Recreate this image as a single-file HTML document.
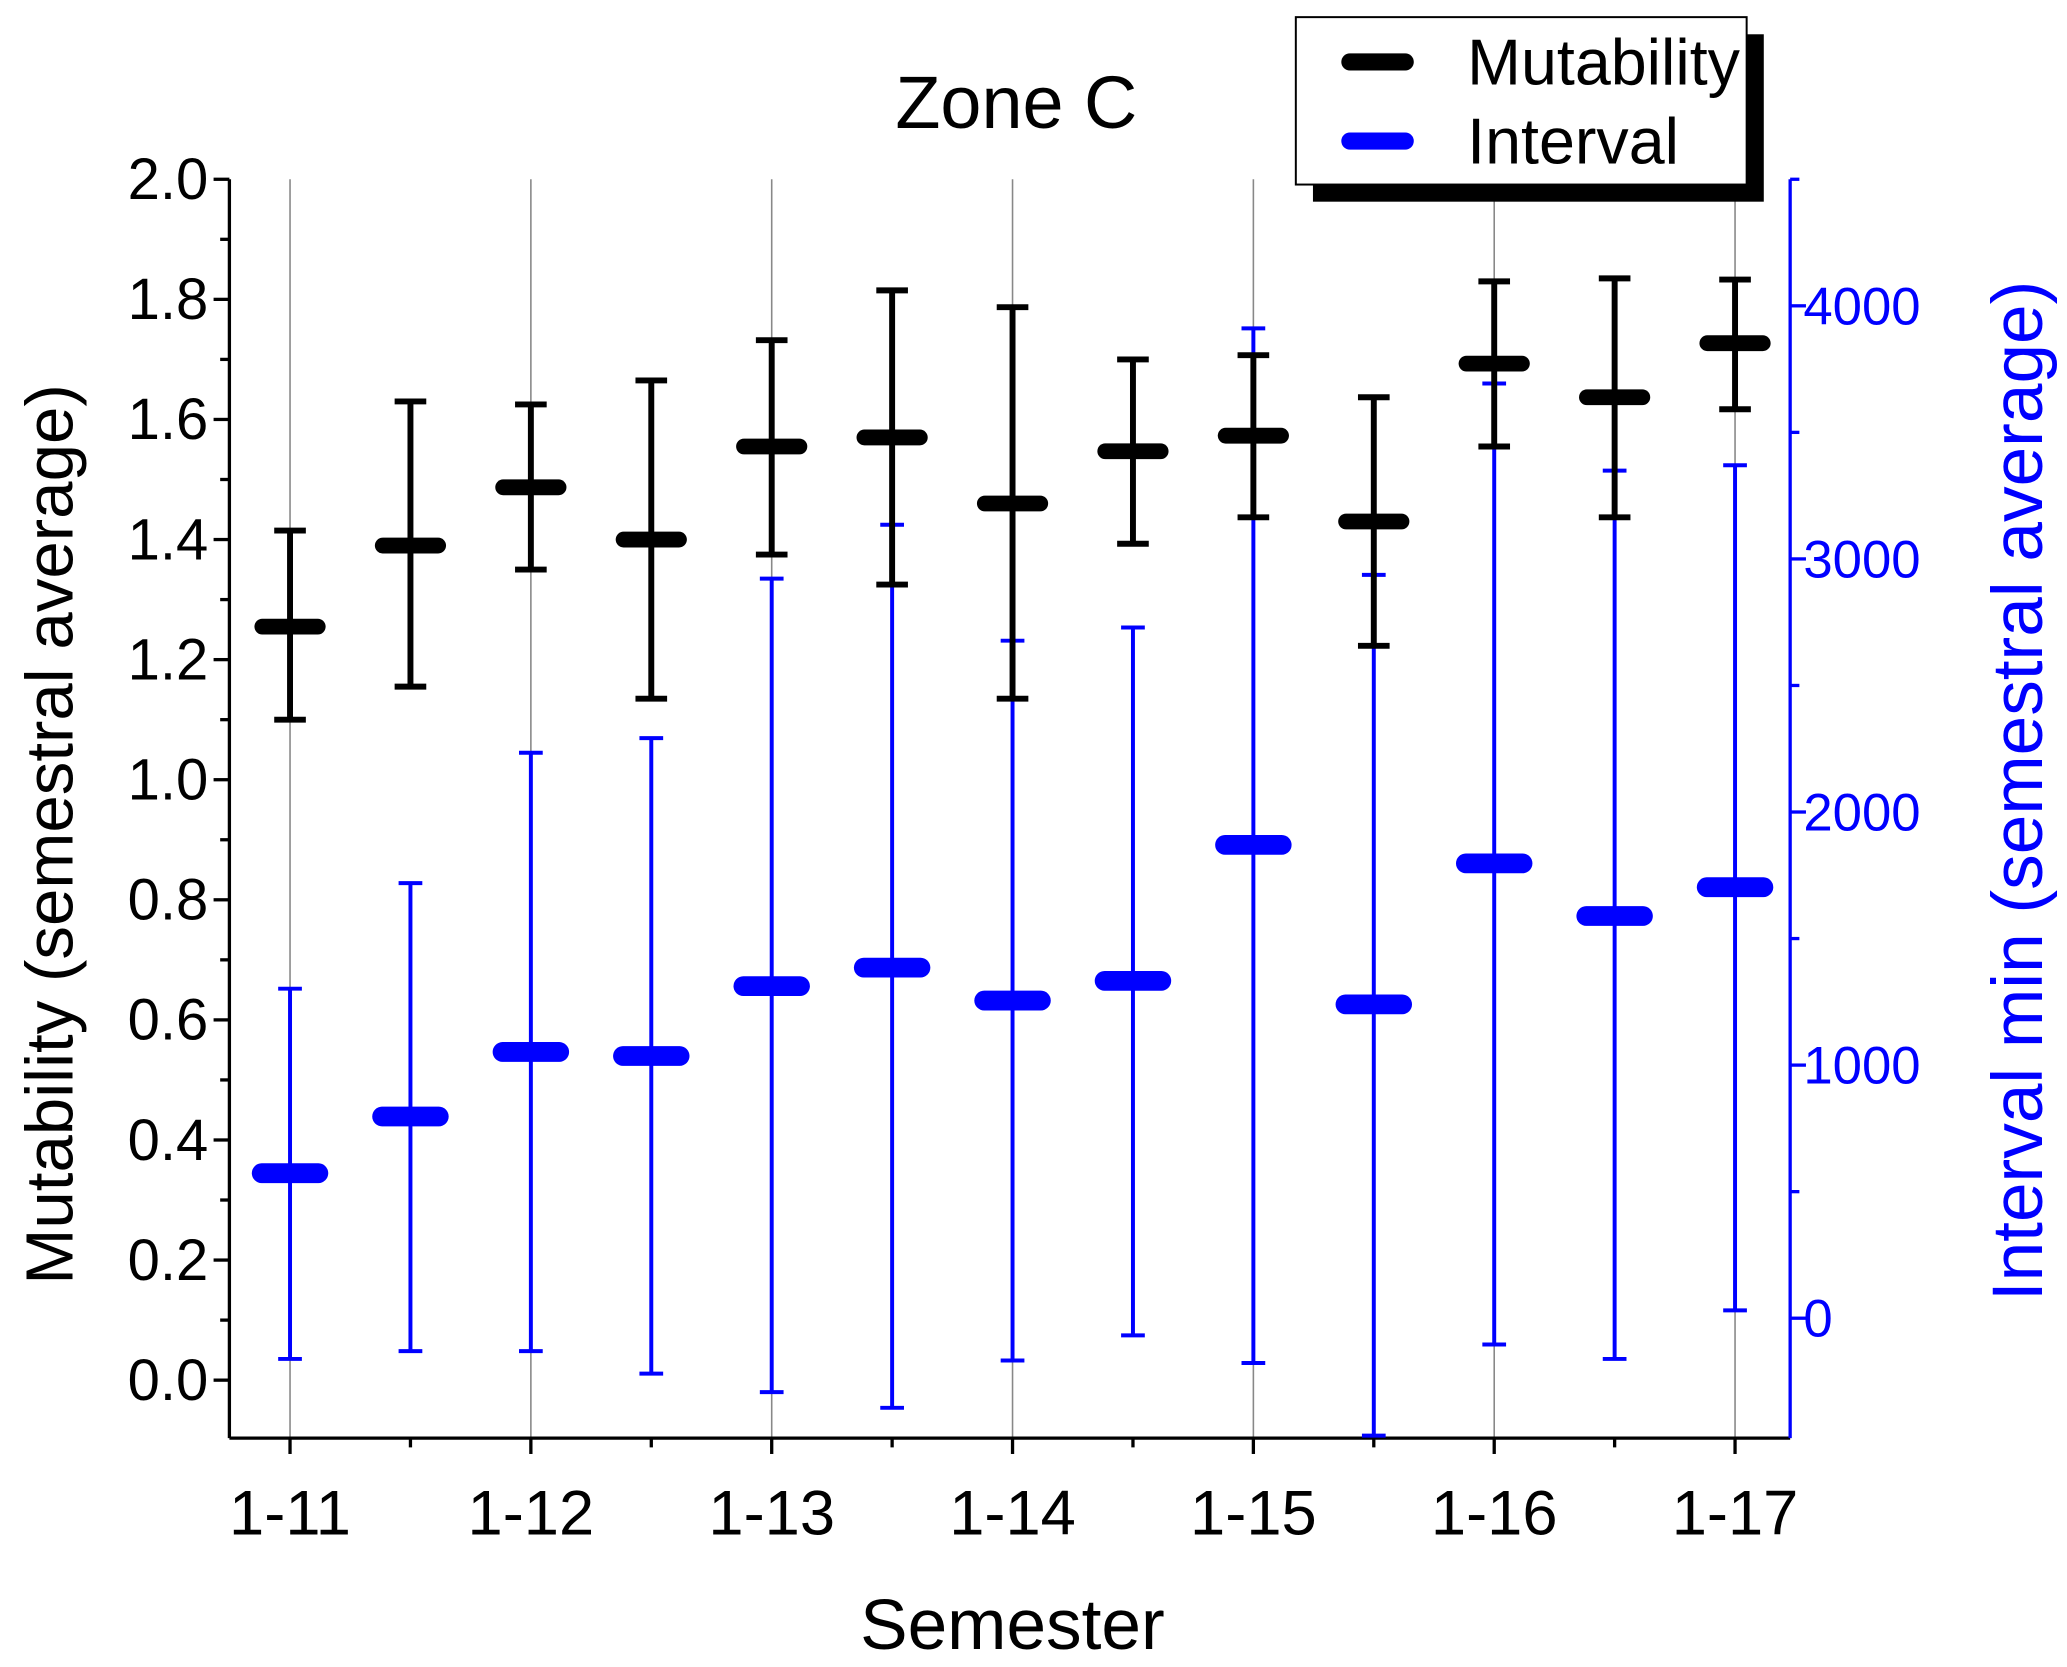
<!DOCTYPE html>
<html><head><meta charset="utf-8"><style>html,body{margin:0;padding:0;background:#fff}svg{display:block}text{font-family:"Liberation Sans",Arial,sans-serif}</style></head>
<body>
<svg id="chart" width="2067" height="1667" viewBox="0 0 1568 1264.6" xmlns="http://www.w3.org/2000/svg">
<g id="grid"></g>
<g id="axes"></g>
<g id="marks"></g>
<text x="771" y="97" font-size="56" text-anchor="middle">Zone C</text>
<text x="768" y="1251" font-size="54" text-anchor="middle">Semester</text>
<text transform="translate(55,633) rotate(-90)" font-size="51" text-anchor="middle">Mutability (semestral average)</text>
<text transform="translate(1549,600) rotate(-90)" font-size="54" text-anchor="middle" fill="#0000ff">Interval min (semestral average)</text>
<g>
<rect x="996" y="26" width="342" height="127" fill="#000"/>
<rect x="983" y="13" width="342" height="127" fill="#fff" stroke="#000" stroke-width="1.5"/>
<line x1="1024" y1="47" x2="1066" y2="47" stroke="#000" stroke-width="13" stroke-linecap="round"/>
<text x="1113" y="64" font-size="49">Mutability</text>
<line x1="1024" y1="107" x2="1066" y2="107" stroke="#0000ff" stroke-width="13" stroke-linecap="round"/>
<text x="1113" y="124" font-size="49">Interval</text>
</g>
</svg>
<script>
const xLabels = ["1-11","1-12","1-13","1-14","1-15","1-16","1-17"];
const mutMean = [1.255,1.39,1.487,1.40,1.555,1.57,1.46,1.547,1.573,1.43,1.693,1.637,1.727];
const mutLow  = [1.10,1.155,1.35,1.135,1.375,1.325,1.135,1.393,1.437,1.223,1.555,1.437,1.617];
const mutHigh = [1.415,1.63,1.625,1.665,1.732,1.815,1.787,1.70,1.707,1.637,1.83,1.835,1.833];
const intMean = [573,797,1052,1036,1312,1385,1255,1333,1870,1240,1797,1589,1703];
const intLow  = [-161,-130,-130,-219,-292,-354,-167,-68,-177,-464,-104,-161,31];
const intHigh = [1302,1719,2234,2292,2922,3135,2677,2729,3911,2937,3693,3349,3370];
const leftTicks = ["0.0","0.2","0.4","0.6","0.8","1.0","1.2","1.4","1.6","1.8","2.0"];
const rightTicks = ["0","1000","2000","3000","4000"];

const NS="http://www.w3.org/2000/svg";
const L=174,R=1358,T=136,B=1091;
const xs=i=>220+i*91.35;
const yL=v=>1047-v*455.5;
const yR=v=>1000-v*0.192;
function mk(tag,attrs,parent){const e=document.createElementNS(NS,tag);for(const k in attrs)e.setAttribute(k,attrs[k]);document.getElementById(parent).appendChild(e);return e;}

xLabels.forEach((s,j)=>{const e=mk('line',{x1:xs(2*j),x2:xs(2*j),y1:T,y2:B,stroke:'#888','stroke-width':1.2},'grid');

});

let a=mk('line',{x1:L,x2:L,y1:T,y2:B,stroke:'#000','stroke-width':2.5},'axes');


a=mk('line',{x1:L,x2:R,y1:B,y2:B,stroke:'#000','stroke-width':2.5},'axes');


a=mk('line',{x1:R,x2:R,y1:T,y2:B,stroke:'#0000ff','stroke-width':2.5},'axes');



leftTicks.forEach((s,i)=>{const v=parseFloat(s);const y=yL(v);
mk('line',{x1:L-12,x2:L,y1:y,y2:y,stroke:'#000','stroke-width':2.5},'axes');
if(i<leftTicks.length-1){const y2=yL(v+0.1);mk('line',{x1:L-7,x2:L,y1:y2,y2:y2,stroke:'#000','stroke-width':2.5},'axes');}
const t=mk('text',{x:L-16,y:y+15,'font-size':44,'text-anchor':'end'},'axes');t.textContent=s;

});
{const y=yL(-0.1);if(y<=B)mk('line',{x1:L-7,x2:L,y1:y,y2:y,stroke:'#000','stroke-width':2.5},'axes');}

rightTicks.forEach((s,i)=>{const v=parseFloat(s);const y=yR(v);
mk('line',{x1:R,x2:R+12,y1:y,y2:y,stroke:'#0000ff','stroke-width':2.5},'axes');
[v-500,v+500].forEach(m=>{const ym=yR(m);if(ym>=T&&ym<=B&&(m<0||m==v+500))mk('line',{x1:R,x2:R+7,y1:ym,y2:ym,stroke:'#0000ff','stroke-width':2.5},'axes');});
const t=mk('text',{x:R+10,y:y+14,'font-size':40,fill:'#0000ff'},'axes');t.textContent=s;

});

for(let i=0;i<13;i++){const x=xs(i);const major=i%2==0;
mk('line',{x1:x,x2:x,y1:B,y2:B+(major?12:7),stroke:'#000','stroke-width':2.5},'axes');}
xLabels.forEach((s,j)=>{const t=mk('text',{x:xs(2*j),y:1164,'font-size':48,'text-anchor':'middle'},'axes');t.textContent=s;

});

function series(mean,lo,hi,yf,col,cap,lw,bw,bh,name){
 for(let i=0;i<mean.length;i++){const x=xs(i);
  const g=mk('g',{},'marks');
  
  
  const p=(tag,at)=>{const e=document.createElementNS(NS,tag);for(const k in at)e.setAttribute(k,at[k]);g.appendChild(e);return e;};
  p('line',{x1:x,x2:x,y1:yf(lo[i]),y2:yf(hi[i]),stroke:col,'stroke-width':lw});
  p('line',{x1:x-cap,x2:x+cap,y1:yf(lo[i]),y2:yf(lo[i]),stroke:col,'stroke-width':lw});
  p('line',{x1:x-cap,x2:x+cap,y1:yf(hi[i]),y2:yf(hi[i]),stroke:col,'stroke-width':lw});
  p('rect',{x:x-bw/2,y:yf(mean[i])-bh/2,width:bw,height:bh,rx:bh/2,fill:col});
 }}
series(intMean,intLow,intHigh,yR,'#0000ff',9,3,58,15,'interval');
series(mutMean,mutLow,mutHigh,yL,'#000',12,4.5,54,12,'mutability');
</script>
</body></html>
